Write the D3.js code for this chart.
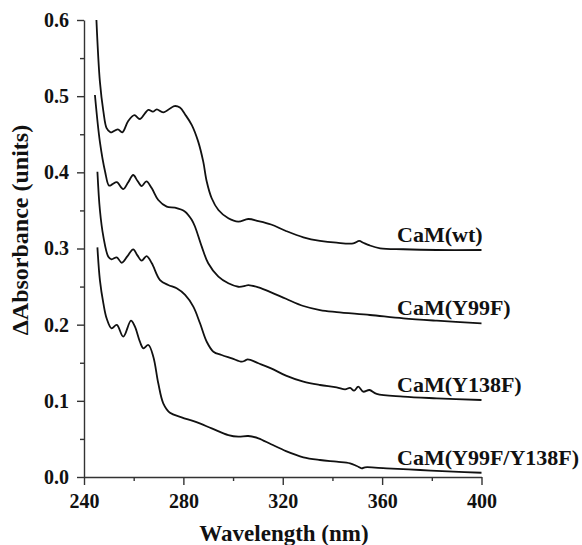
<!DOCTYPE html>
<html>
<head>
<meta charset="utf-8">
<script src="https://cdn.jsdelivr.net/npm/d3@7"></script>
<style>
  body { margin: 0; background: #fff; }
  text { font-family: "Liberation Serif", "Times New Roman", serif; font-weight: bold; fill: #111; }
</style>
</head>
<body>
<script>
// difference spectra, [wavelength nm, dA]
const wt = [
  [245, 0.600], [246.4, 0.519], [247.8, 0.480], [249.1, 0.458], [250.5, 0.453],
  [251.1, 0.4525], [253.6, 0.4565], [255.4, 0.4525], [257.8, 0.4674], [260.3, 0.475],
  [262.5, 0.470], [265.9, 0.482], [267.7, 0.4796], [269.3, 0.4827], [271.9, 0.4788],
  [276.4, 0.487], [278.6, 0.485], [280.7, 0.476], [283.4, 0.462], [286, 0.440],
  [288, 0.414], [289.4, 0.388], [291.4, 0.366], [294.1, 0.3505], [298.1, 0.3396],
  [302.1, 0.3352], [306.1, 0.3387], [310.2, 0.336], [315.3, 0.3315], [321.3, 0.323],
  [328.3, 0.3147], [335, 0.310], [341.7, 0.3076], [348.4, 0.3068], [350.8, 0.310],
  [352.4, 0.3076], [355, 0.304], [359.2, 0.3003], [368.5, 0.299], [382, 0.298], [400, 0.298]
];
const y99f = [
  [244.4, 0.5015], [246.4, 0.440], [248.5, 0.4008], [250.1, 0.3825], [251.5, 0.3845],
  [253.2, 0.387], [255.8, 0.378], [257.8, 0.387], [259.8, 0.3965], [261.5, 0.389],
  [263.2, 0.382], [265.1, 0.388], [267.3, 0.379], [269.9, 0.3637], [273.3, 0.3549],
  [276.6, 0.3536], [280.7, 0.3483], [283.4, 0.3374], [284.7, 0.3286], [287.4, 0.3024],
  [290, 0.2806], [294.1, 0.263], [298.1, 0.2543], [302.1, 0.2498], [304.8, 0.2508],
  [306.1, 0.252], [310.2, 0.249], [315.3, 0.2425], [321.3, 0.234], [328.3, 0.2245],
  [335, 0.2192], [341.7, 0.2166], [355.1, 0.2127], [368.5, 0.2083], [382, 0.2052], [400, 0.2018]
];
const y138f = [
  [245.4, 0.4008], [246.4, 0.3505], [247.8, 0.3155], [249.8, 0.2892], [251.1, 0.2858],
  [253.2, 0.2884], [255.2, 0.2813], [257.5, 0.290], [259.8, 0.2989], [261.5, 0.291],
  [263.2, 0.284], [265.2, 0.2901], [267.3, 0.2806], [270.6, 0.2586], [273.9, 0.2521],
  [277.3, 0.2477], [280.7, 0.239], [284, 0.2236], [286.7, 0.2018], [289.4, 0.1776],
  [292.1, 0.1645], [295.4, 0.1602], [299.5, 0.1558], [303.5, 0.1514], [304.8, 0.1527],
  [305.9, 0.1545], [310.2, 0.1493], [315.3, 0.1427], [321.3, 0.133], [328.3, 0.1251],
  [335, 0.1208], [341.7, 0.1178], [345.1, 0.1151], [347.1, 0.117], [348.7, 0.1133],
  [350.4, 0.1186], [352.4, 0.112], [354.9, 0.1142], [357.8, 0.109], [368.5, 0.1055],
  [382, 0.1033], [400, 0.1011]
];
const y99fY138f = [
  [245.4, 0.3015], [246.4, 0.2586], [247.8, 0.228], [249.1, 0.2084], [251.1, 0.1952],
  [253.2, 0.1996], [255.8, 0.1842], [258.9, 0.2052], [260.5, 0.1973], [262.5, 0.1776],
  [263.9, 0.169], [265.9, 0.1733], [267.9, 0.158], [269.9, 0.123], [271.9, 0.0968],
  [274.6, 0.0844], [279.3, 0.0784], [284.7, 0.0726], [291.4, 0.0639], [298.1, 0.0551],
  [302.1, 0.0529], [306.1, 0.0538], [310.2, 0.0508], [315.3, 0.043], [321.3, 0.034],
  [328.3, 0.0259], [335, 0.0223], [341.7, 0.0201], [347.1, 0.018], [349.8, 0.0144],
  [351.8, 0.0114], [353.1, 0.0127], [361.8, 0.0114], [375.3, 0.0092], [388.7, 0.007], [400, 0.0056]
];

const seriesNames = ["CaM(wt)", "CaM(Y99F)", "CaM(Y138F)", "CaM(Y99F/Y138F)"];
const seriesData = [wt, y99f, y138f, y99fY138f];
const labelAt = 366; // nm, left edge of the curve labels

const xTicks = [240, 280, 320, 360, 400];
const xMinor = [260, 300, 340, 380];
const yTicks = [0.0, 0.1, 0.2, 0.3, 0.4, 0.5, 0.6];
const yMinor = [0.05, 0.15, 0.25, 0.35, 0.45, 0.55];

const width = 582, height = 545;
const svg = d3.select("body").append("svg")
  .attr("width", width)
  .attr("height", height);

const x = d3.scaleLinear().domain([240, 400]).range([84, 481.5]);
const y = d3.scaleLinear().domain([0, 0.6]).range([477, 20]);

// x axis
const xAxis = svg.append("g").attr("transform", "translate(0," + y(0) + ")");
xAxis.call(d3.axisBottom(x).tickValues(xTicks).tickFormat(d3.format("d"))
  .tickSizeInner(8).tickSizeOuter(0).tickPadding(9));
svg.append("g").attr("transform", "translate(0," + y(0) + ")")
  .call(d3.axisBottom(x).tickValues(xMinor).tickFormat("").tickSizeInner(4).tickSizeOuter(0))
  .select(".domain").remove();

// y axis
const yAxis = svg.append("g").attr("transform", "translate(" + x(240) + ",0)");
yAxis.call(d3.axisLeft(y).tickValues(yTicks).tickFormat(d3.format(".1f"))
  .tickSizeInner(7).tickSizeOuter(0).tickPadding(8));
svg.append("g").attr("transform", "translate(" + x(240) + ",0)")
  .call(d3.axisLeft(y).tickValues(yMinor).tickFormat("").tickSizeInner(4).tickSizeOuter(0))
  .select(".domain").remove();

svg.selectAll(".domain, .tick line")
  .attr("stroke", "#333")
  .attr("stroke-width", 1.4);
svg.selectAll(".tick text")
  .style("font-size", "20px")
  .style("font-family", "'Liberation Serif', 'Times New Roman', serif")
  .style("font-weight", "bold")
  .attr("fill", "#111");

// axis titles
svg.append("text")
  .attr("x", 284)
  .attr("y", 541)
  .attr("text-anchor", "middle")
  .style("font-size", "23px")
  .text("Wavelength  (nm)");

svg.append("text")
  .attr("transform", "translate(28,230) rotate(-90)")
  .attr("text-anchor", "middle")
  .style("font-size", "24px")
  .text("\u0394Absorbance (units)");

// spectra
const line = d3.line()
  .x(d => x(d[0]))
  .y(d => y(d[1]))
  .curve(d3.curveCatmullRom.alpha(0.5));

svg.selectAll("path.spectrum")
  .data(seriesData)
  .enter()
  .append("path")
  .attr("class", "spectrum")
  .attr("d", line)
  .attr("fill", "none")
  .attr("stroke", "#111")
  .attr("stroke-width", 1.8);

// curve labels sit just above the tail of each curve
svg.selectAll("text.curve-label")
  .data(seriesData)
  .enter()
  .append("text")
  .attr("class", "curve-label")
  .attr("x", x(labelAt))
  .attr("y", d => y(d[d.length - 1][1]) - 8)
  .style("font-size", "22px")
  .text((d, i) => seriesNames[i]);
</script>
</body>
</html>
